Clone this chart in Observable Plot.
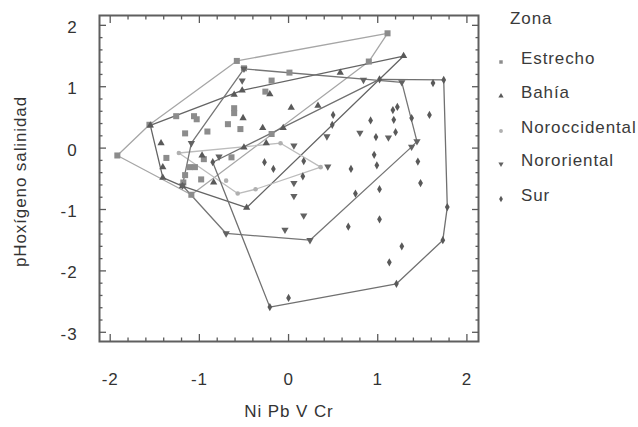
<!DOCTYPE html>
<html><head><meta charset="utf-8">
<script src="https://cdn.jsdelivr.net/npm/d3@7"></script>
<script src="https://cdn.jsdelivr.net/npm/@observablehq/plot@0.6"></script>
<style>
body{margin:0;background:#fff;}
#wrap{position:relative;width:638px;height:427px;font-family:"Liberation Sans",Arial,sans-serif;color:#3a3a3a;}
.lg{position:absolute;font-size:17px;letter-spacing:0.9px;line-height:20px;white-space:nowrap;}
.lm{position:absolute;}
</style></head>
<body><div id="wrap"></div>
<script>
const zones = ["Estrecho","Bahía","Noroccidental","Nororiental","Sur"];
const estrecho = [[-1.92,-0.12],[-1.56,0.38],[-1.26,0.52],[-0.58,1.42],[-0.50,1.30],[-0.19,1.10],[-0.26,0.92],[0.01,1.23],[0.90,1.41],[1.11,1.87],[-1.06,0.52],[-1.03,0.47],[-0.61,0.65],[-0.61,0.57],[-0.68,0.39],[-0.91,0.27],[-0.54,0.31],[-1.16,0.24],[-0.19,0.23],[-1.37,-0.16],[-0.95,-0.18],[-0.64,-0.15],[-1.11,-0.31],[-1.05,-0.31],[-1.16,-0.44],[-0.98,-0.51],[-1.18,-0.56],[-1.09,-0.76]];
const bahia = [[-1.55,0.37],[-1.43,0.08],[-1.41,-0.31],[-1.41,-0.48],[-1.19,-0.62],[-0.84,-0.56],[-0.47,-0.97],[-0.97,-0.12],[-0.61,0.87],[-0.52,0.94],[-0.51,0.49],[-0.29,0.33],[-0.06,0.33],[-0.25,0.08],[-0.50,0.01],[-0.21,0.88],[0.03,0.66],[0.33,0.69],[0.58,1.23],[1.29,1.50]];
const noroccidental = [[-1.23,-0.08],[-0.09,0.08],[0.36,-0.31],[-0.37,-0.67],[-0.57,-0.74],[-0.70,-0.53]];
const nororiental = [[-0.50,1.29],[-0.52,1.10],[0.84,1.11],[1.27,1.07],[1.44,0.11],[1.38,0.02],[0.43,0.19],[0.80,0.25],[1.12,0.17],[0.06,0.04],[0.44,-0.30],[0.06,-0.57],[0.06,-0.78],[0.17,-1.10],[-0.04,-1.33],[0.24,-1.50],[-0.70,-1.39],[-0.78,-0.14],[-1.09,0.08],[-1.19,-0.61]];
const sur = [[-0.85,-0.23],[-0.27,-0.23],[-0.17,-0.34],[1.62,1.06],[1.74,1.11],[1.02,1.12],[1.17,0.62],[1.22,0.67],[1.38,0.49],[1.58,0.54],[1.18,0.46],[0.92,0.45],[0.50,0.54],[0.49,0.38],[0.98,0.18],[1.20,0.26],[0.96,-0.11],[0.99,-0.28],[1.45,-0.22],[1.48,-0.57],[0.70,-0.34],[0.17,-0.21],[0.16,-0.46],[1.02,-0.67],[0.75,-0.74],[1.02,-1.16],[0.67,-1.28],[1.27,-1.60],[1.13,-1.86],[1.21,-2.21],[0.00,-2.44],[-0.21,-2.59],[1.78,-0.96],[1.73,-1.50]];
const xTickLabels = [-2,-1,0,1,2];
const yTickLabels = [-3,-2,-1,0,1,2];
const xLabel = "Ni Pb V Cr";
const yLabel = "pHoxígeno salinidad";
const legendTitle = "Zona";

const sqrt3 = Math.sqrt(3);
const triangleDown = {draw(context, size) {
  const y = -Math.sqrt(size / (sqrt3 * 3));
  context.moveTo(0, -y * 2);
  context.lineTo(-sqrt3 * y, y);
  context.lineTo(sqrt3 * y, y);
  context.closePath();
}};
const groups = [
  {name: zones[0], data: estrecho, symbol: d3.symbolSquare, r: 3.4, fill: "#8c8c8c", hull: "#a6a6a6"},
  {name: zones[1], data: bahia, symbol: d3.symbolTriangle, r: 2.7, fill: "#595959", hull: "#646464"},
  {name: zones[2], data: noroccidental, symbol: d3.symbolCircle, r: 2.3, fill: "#b0b0b0", hull: "#bcbcbc"},
  {name: zones[3], data: nororiental, symbol: triangleDown, r: 2.7, fill: "#626262", hull: "#757575"},
  {name: zones[4], data: sur, symbol: d3.symbolDiamond, r: 2.5, fill: "#595959", hull: "#707070"}
];

const round = v => Math.round(v * 10) / 10;
const xMinor = d3.range(-20, 21, 2).map(v => round(v / 10)).filter(v => !xTickLabels.includes(v));
const yMinor = d3.range(-30, 21, 2).map(v => round(v / 10)).filter(v => !yTickLabels.includes(v));
const tickColor = "#5a5a5a";
const blank = () => "";

const marks = [];
for (const g of groups) {
  marks.push(Plot.hull(g.data, {x: d => d[0], y: d => d[1], stroke: g.hull, strokeWidth: 1.3}));
}
for (const g of groups) {
  marks.push(Plot.dot(g.data, {x: d => d[0], y: d => d[1], symbol: g.symbol, r: g.r, fill: g.fill, stroke: "none"}));
}
marks.push(Plot.frame({stroke: "#5f5f5f", strokeWidth: 2}));
for (const [ticks, size] of [[xTickLabels, 7], [xMinor, 3.5]]) {
  marks.push(Plot.axisX(ticks, {anchor: "bottom", tickSize: size, dy: -size, tickFormat: blank, label: null, stroke: tickColor, strokeWidth: 1.3}));
  marks.push(Plot.axisX(ticks, {anchor: "top", tickSize: size, dy: size, tickFormat: blank, label: null, stroke: tickColor, strokeWidth: 1.3}));
}
for (const [ticks, size] of [[yTickLabels, 7], [yMinor, 3.5]]) {
  marks.push(Plot.axisY(ticks, {anchor: "left", tickSize: size, dx: size, tickFormat: blank, label: null, stroke: tickColor, strokeWidth: 1.3}));
  marks.push(Plot.axisY(ticks, {anchor: "right", tickSize: size, dx: -size, tickFormat: blank, label: null, stroke: tickColor, strokeWidth: 1.3}));
}
marks.push(Plot.axisX(xTickLabels, {anchor: "bottom", tickSize: 0, tickPadding: 31, tickFormat: d => String(d), label: null, fill: "#333"}));
marks.push(Plot.axisY(yTickLabels, {anchor: "left", tickSize: 0, tickPadding: 22, dy: 2, tickFormat: d => String(d), label: null, fill: "#333"}));
marks.push(Plot.text([xLabel], {text: d => d, frameAnchor: "bottom", lineAnchor: "middle", textAnchor: "middle", dy: 70, fill: "#333"}));
marks.push(Plot.text([yLabel], {text: d => d, frameAnchor: "left", textAnchor: "middle", lineAnchor: "middle", rotate: -90, dx: -79, dy: 3, fill: "#333"}));

const chart = Plot.plot({
  width: 638, height: 427,
  marginLeft: 99, marginRight: 160, marginTop: 15, marginBottom: 86,
  x: {domain: [-2.12, 2.13], label: null},
  y: {domain: [-3.15, 2.16], label: null},
  style: {fontFamily: '"Liberation Sans", Arial, sans-serif', fontSize: "17px", letterSpacing: "0.9px", background: "#fff", color: "#333"},
  marks
});
const wrap = document.getElementById("wrap");
wrap.appendChild(chart);

const title = document.createElement("div");
title.className = "lg"; title.textContent = legendTitle;
title.style.left = "510px"; title.style.top = "9px";
wrap.appendChild(title);
const rowY = [59, 93, 128, 161, 196];
groups.forEach((g, i) => {
  const t = document.createElement("div");
  t.className = "lg"; t.textContent = g.name;
  t.style.left = "521px"; t.style.top = (rowY[i] - 10) + "px";
  wrap.appendChild(t);
  const s = d3.create("svg").attr("class", "lm").attr("width", 10).attr("height", 10)
    .style("left", "496px").style("top", (rowY[i] - 2) + "px");
  s.append("path").attr("transform", "translate(5,5)")
    .attr("d", d3.symbol(g.symbol, 12)()).attr("fill", g.fill);
  wrap.appendChild(s.node());
});
</script>
</body></html>
